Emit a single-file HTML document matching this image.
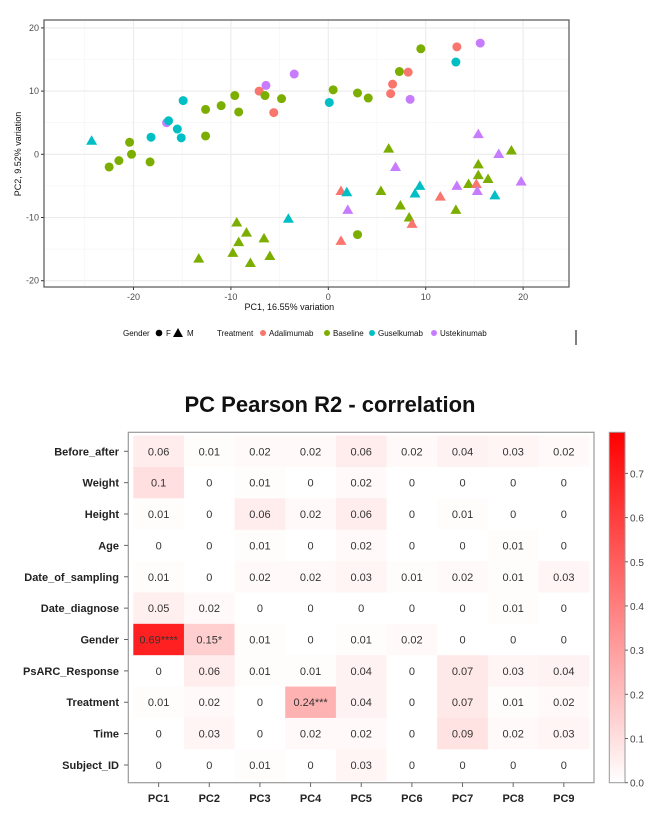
<!DOCTYPE html>
<html><head><meta charset="utf-8">
<style>
body{margin:0;background:#fff;width:666px;height:816px;overflow:hidden;font-family:"Liberation Sans",sans-serif}
svg{display:block}
</style></head><body>
<svg id="s" width="666" height="816" font-family="Liberation Sans, sans-serif"></svg>
<script>
// ---- PCA scatter data ----
const ptX=[-16.6,-16.4,-14.9,-15.5,-15.1,-18.2,-20.4,-20.2,-21.5,-22.5,-18.3,-12.6,-12.6,-11.0,-9.6,-9.2,-7.1,-6.4,-6.5,-5.6,-4.8,-3.5,0.1,0.5,
 3.0,4.1,6.6,6.4,7.3,8.2,8.4,9.5,13.2,13.1,15.6,3.0,
 -24.3,-9.4,-8.4,-9.2,-9.8,-13.3,-8.0,-6.6,-6.0,-4.1,
 1.3,1.9,2.0,1.3,6.2,6.9,5.4,7.4,8.3,8.6,8.9,9.4,11.5,13.2,13.1,14.4,15.2,15.3,15.4,15.4,15.4,16.4,17.1,17.5,18.8,19.8];
const ptY=[5.0,5.3,8.5,4.0,2.6,2.7,1.9,0,-1.0,-2.0,-1.2,7.1,2.9,7.7,9.3,6.7,10.0,10.9,9.3,6.6,8.8,12.7,8.2,10.2,
 9.7,8.9,11.1,9.6,13.1,13.0,8.7,16.7,17.0,14.6,17.6,-12.7,
 2.15,-10.8,-12.4,-13.9,-15.6,-16.5,-17.2,-13.3,-16.1,-10.2,
 -5.8,-6.0,-8.8,-13.7,0.9,-2.0,-5.8,-8.1,-10.0,-11.0,-6.2,-5.0,-6.7,-5.0,-8.8,-4.7,-4.7,-5.8,-3.3,-1.6,3.2,-3.9,-6.5,0.05,0.6,-4.3];
const ptTreat=["U","G","G","G","G","G","B","B","B","B","B","B","B","B","B","B","A","U","B","A","B","U","G","B",
 "B","B","A","A","B","A","U","B","A","G","U","B",
 "G","B","B","B","B","B","B","B","B","G",
 "A","G","U","A","B","U","B","B","B","A","G","G","A","U","B","B","A","U","B","B","U","B","G","U","B","U"];
const ptGender=[].concat(Array(36).fill("F"),Array(36).fill("M"));
const xTicks=[-20,-10,0,10,20];
const yTicks=[-20,-10,0,10,20];
// ---- heatmap data ----
const rowNames=["Before_after","Weight","Height","Age","Date_of_sampling","Date_diagnose","Gender","PsARC_Response","Treatment","Time","Subject_ID"];
const colNames=["PC1","PC2","PC3","PC4","PC5","PC6","PC7","PC8","PC9"];
const hmVals=[
[0.06,0.01,0.02,0.02,0.06,0.02,0.04,0.03,0.02],
[0.1,0,0.01,0,0.02,0,0,0,0],
[0.01,0,0.06,0.02,0.06,0,0.01,0,0],
[0,0,0.01,0,0.02,0,0,0.01,0],
[0.01,0,0.02,0.02,0.03,0.01,0.02,0.01,0.03],
[0.05,0.02,0,0,0,0,0,0.01,0],
[0.69,0.15,0.01,0,0.01,0.02,0,0,0],
[0,0.06,0.01,0.01,0.04,0,0.07,0.03,0.04],
[0.01,0.02,0,0.24,0.04,0,0.07,0.01,0.02],
[0,0.03,0,0.02,0.02,0,0.09,0.02,0.03],
[0,0,0.01,0,0.03,0,0,0,0]];
const hmStars=[["","","","","","","","",""],["","","","","","","","",""],["","","","","","","","",""],["","","","","","","","",""],["","","","","","","","",""],["","","","","","","","",""],
["****","*","","","","","","",""],["","","","","","","","",""],["","","","***","","","","",""],["","","","","","","","",""],["","","","","","","","",""]];
const cbTicks=[0.0,0.1,0.2,0.3,0.4,0.5,0.6,0.7];

const NS="http://www.w3.org/2000/svg";
const svg=document.getElementById('s');
function mk(tag,attrs,parent,txt){const e=document.createElementNS(NS,tag);for(const k in attrs)e.setAttribute(k,attrs[k]);if(txt!==undefined)e.textContent=txt;(parent||svg).appendChild(e);return e;}

const L=44,R=569,T=20,B=287;
const sx=v=>328.3+v*9.74, sy=v=>154.3-v*6.32;
const g1=mk('g',{});


mk('rect',{x:L,y:T,width:R-L,height:B-T,fill:'#fff'},g1);
for(let v=-25;v<=20;v+=10){mk('line',{x1:sx(v),x2:sx(v),y1:T,y2:B,stroke:'#f3f3f3','stroke-width':0.6},g1);}
for(let v=-15;v<=15;v+=10){mk('line',{x1:L,x2:R,y1:sy(v),y2:sy(v),stroke:'#f3f3f3','stroke-width':0.6},g1);}
xTicks.forEach(v=>{const l=mk('line',{x1:sx(v),x2:sx(v),y1:T,y2:B,stroke:'#ebebeb','stroke-width':1.1},g1);
 
 mk('line',{x1:sx(v),x2:sx(v),y1:B,y2:B+3,stroke:'#333'},g1);
 const t=mk('text',{x:sx(v),y:B+13,'font-size':9,fill:'#4d4d4d','text-anchor':'middle'},g1,String(v));
 });
yTicks.forEach(v=>{const l=mk('line',{x1:L,x2:R,y1:sy(v),y2:sy(v),stroke:'#ebebeb','stroke-width':1.1},g1);
 
 mk('line',{x1:L-3,x2:L,y1:sy(v),y2:sy(v),stroke:'#333'},g1);
 const t=mk('text',{x:L-5,y:sy(v)+3,'font-size':9,fill:'#4d4d4d','text-anchor':'end'},g1,String(v));
 });
const col={A:'#F8766D',B:'#7CAE00',G:'#00BFC4',U:'#C77CFF'};
ptX.forEach((x,i)=>{const cx=sx(x),cy=sy(ptY[i]);let m;
 if(ptGender[i]==='F'){m=mk('circle',{cx:cx,cy:cy,r:4.5,fill:col[ptTreat[i]]},g1);}
 else{m=mk('polygon',{points:`${cx},${cy-5.5} ${cx-5.5},${cy+4} ${cx+5.5},${cy+4}`,fill:col[ptTreat[i]]},g1);}
 });
const bd=mk('rect',{x:L,y:T,width:R-L,height:B-T,fill:'none',stroke:'#555','stroke-width':1.2},g1);

let t=mk('text',{x:sx(-4),y:310,'font-size':9,fill:'#111','text-anchor':'middle'},svg,'PC1, 16.55% variation');

t=mk('text',{x:0,y:0,'font-size':9,fill:'#111','text-anchor':'middle',transform:'translate(21,154) rotate(-90)'},svg,'PC2, 9.52% variation');

// legend
const lg=mk('g',{'font-size':8,fill:'#111'});

mk('text',{x:123,y:336},lg,'Gender');
mk('circle',{cx:159,cy:333,r:3.3,fill:'#000'},lg);mk('text',{x:166,y:336},lg,'F');
mk('polygon',{points:'178,328 173,337 183,337',fill:'#000'},lg);mk('text',{x:187,y:336},lg,'M');
mk('text',{x:217,y:336},lg,'Treatment');
[['A','Adalimumab',263],['B','Baseline',327],['G','Guselkumab',372],['U','Ustekinumab',434]].forEach(([k,n,x])=>{
 const c=mk('circle',{cx:x,cy:333,r:3,fill:col[k]},lg);
 mk('text',{x:x+6,y:336},lg,n);});
mk('line',{x1:576,x2:576,y1:330,y2:345,stroke:'#000','stroke-width':1});

// heatmap
t=mk('text',{x:330,y:412,'font-size':22,'font-weight':'bold',fill:'#111','text-anchor':'middle'},svg,'PC Pearson R2 - correlation');

const hx0=133.3,cw=50.65,hy0=435.6,ch=31.37,vmax=0.793;
const hg=mk('g',{});
function colr(v){const f=Math.min(1,v/vmax);const gb=Math.round(255*(1-f));return `rgb(255,${gb},${gb})`;}
hmVals.forEach((row,r)=>row.forEach((v,c)=>{
 const cell=mk('rect',{x:hx0+c*cw,y:hy0+r*ch,width:cw+0.3,height:ch+0.3,fill:colr(v)},hg);
 
 const tx=mk('text',{x:hx0+(c+0.5)*cw,y:hy0+(r+0.5)*ch+4,'font-size':11,fill:'#333','text-anchor':'middle'},hg,String(v)+hmStars[r][c]);
 }));
mk('rect',{x:128.3,y:432.3,width:594-128.3,height:782.7-432.3,fill:'none',stroke:'#999','stroke-width':1.2},hg);
rowNames.forEach((n,r)=>{const y=hy0+(r+0.5)*ch;mk('line',{x1:124,x2:128,y1:y,y2:y,stroke:'#666'},hg);
 const tl=mk('text',{x:119,y:y+4,'font-size':11,'font-weight':'bold',fill:'#222','text-anchor':'end'},hg,n);
 });
colNames.forEach((n,c)=>{const x=hx0+(c+0.5)*cw;mk('line',{x1:x,x2:x,y1:782.7,y2:787,stroke:'#666'},hg);
 const tl=mk('text',{x:x,y:802,'font-size':11,'font-weight':'bold',fill:'#222','text-anchor':'middle'},hg,n);
 });
const defs=mk('defs',{});const gr=mk('linearGradient',{id:'cb',x1:0,y1:1,x2:0,y2:0},defs);
mk('stop',{offset:0,'stop-color':'#fff'},gr);mk('stop',{offset:1,'stop-color':'#f00'},gr);
const cbT=432.3,cbB=782.7;const cy=v=>cbB-v/vmax*(cbB-cbT);
const cb=mk('rect',{x:609.3,y:cbT,width:15.7,height:cbB-cbT,fill:'url(#cb)',stroke:'#999','stroke-width':1});

cbTicks.forEach(v=>{mk('line',{x1:625,x2:628,y1:cy(v),y2:cy(v),stroke:'#666'});
 const tl=mk('text',{x:630,y:cy(v)+4,'font-size':10,fill:'#444'},svg,v.toFixed(1));
 });
</script>
</body></html>
